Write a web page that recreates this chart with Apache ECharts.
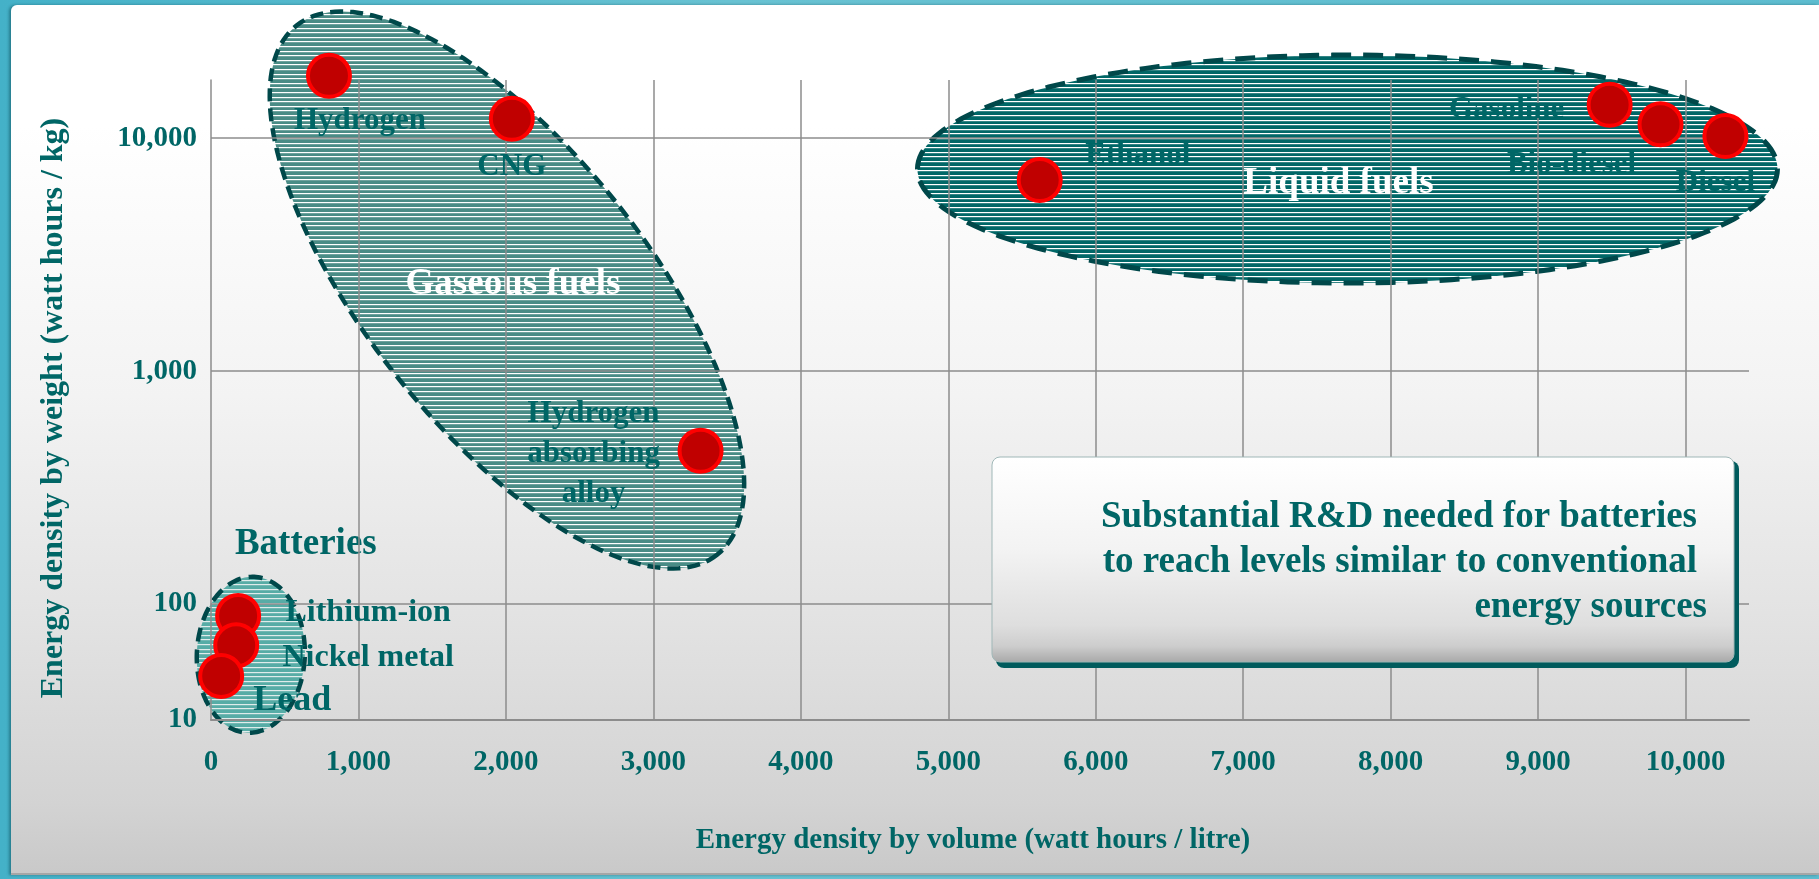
<!DOCTYPE html>
<html>
<head>
<meta charset="utf-8">
<script src="https://cdn.jsdelivr.net/npm/echarts@6/dist/echarts.min.js"></script>
<style>
html,body{margin:0;padding:0;width:1819px;height:879px;overflow:hidden;
  background:linear-gradient(90deg,#44b1c8 0%,#68c2d2 40%,#5dbccf 100%);}
#panel{position:absolute;left:11px;top:5px;width:1808px;height:870px;
  background:linear-gradient(180deg,#ffffff 0%,#ffffff 14%,#f3f3f3 45%,#e3e3e3 70%,#d3d3d3 92%,#c9c9c9 100%);
  border-top-left-radius:6px;box-shadow:-2px 0 3px rgba(0,60,70,0.45);
  border-bottom:2px solid #a6a6a6;box-sizing:border-box;}
#chart{position:absolute;left:0;top:0;width:1819px;height:879px;}
</style>
</head>
<body>
<div id="panel"></div>
<div id="chart"></div>
<script>
// ---------------- DATA ----------------
const fuelNames   = ['Hydrogen', 'CNG', 'Hydrogen\nabsorbing\nalloy', 'Ethanol', 'Gasoline', 'Bio-diesel', 'Diesel'];
const fuelVolume  = [800, 2040, 3320, 5620, 9485, 9830, 10270];      // Wh / litre
const fuelWeight  = [18500, 12100, 455, 6600, 13900, 11450, 10200];  // Wh / kg

const batteryNames  = ['Lithium-ion', 'Nickel metal', 'Lead'];
const batteryVolume = [184, 171, 69];
const batteryWeight = [79, 44, 24];

const xTickValues = [0, 1000, 2000, 3000, 4000, 5000, 6000, 7000, 8000, 9000, 10000];
const yTickValues = [10, 100, 1000, 10000];

const regionNames  = ['Gaseous fuels', 'Liquid fuels', 'Batteries'];
const regionVolume = [2007, 7707, 270];   // anchor of each grouping ellipse
const regionWeight = [2227, 7362, 36.5];

const boxLines = ['Substantial R&D needed for batteries', 'to reach levels similar to conventional', 'energy sources'];

// ---------------- STYLE ----------------
const TEAL = '#006666';
const FONT = '"Liberation Serif", "Times New Roman", serif';
const GRID = '#8c8c8c';

const labelStyle = {
  'Hydrogen': {dx: 31, dy: 45, size: 31},
  'CNG': {dx: 0, dy: 48, size: 31},
  'Hydrogen\nabsorbing\nalloy': {dx: -107, dy: 3, size: 31},
  'Ethanol': {dx: 98, dy: -24, size: 31},
  'Gasoline': {dx: -103, dy: 5, size: 31},
  'Bio-diesel': {dx: -89, dy: 41, size: 31},
  'Diesel': {dx: -10, dy: 47, size: 31},
  'Lithium-ion': {dx: 130, dy: -3, size: 32},
  'Nickel metal': {dx: 132, dy: 12, size: 32},
  'Lead': {dx: 71, dy: 25, size: 36}
};

function makePattern(base, line) {
  const c = document.createElement('canvas');
  c.width = 8; c.height = 23;
  const g = c.getContext('2d');
  g.fillStyle = base; g.fillRect(0, 0, 8, 23);
  g.fillStyle = line;
  [0, 5, 9, 14, 18].forEach(y => g.fillRect(0, y, 8, 1.2));
  return {image: c, repeat: 'repeat'};
}

const regionStyle = {
  'Gaseous fuels': {rx: 338, ry: 140, angle: 51.5, fill: makePattern('#4a8c86', '#ffffff'),
    stroke: '#00484a', width: 4.5, dash: [13, 7], tdx: 6, tdy: -6, tcolor: '#ffffff', tsize: 37},
  'Liquid fuels': {rx: 430, ry: 114, angle: 0, fill: makePattern('#006767', '#ffffff'),
    stroke: '#00484a', width: 5, dash: [20, 12], tdx: -9, tdy: 14, tcolor: '#ffffff', tsize: 37},
  'Batteries': {rx: 54, ry: 78, angle: 2.5, fill: makePattern('#57aca6', '#dfeceb'),
    stroke: '#00484a', width: 4.5, dash: [14, 8], tdx: 55, tdy: -110, tcolor: TEAL, tsize: 37}
};

function fmtTick(list) {
  return function (v) {
    const r = Math.round(v);
    return list.indexOf(r) >= 0 ? r.toLocaleString('en-US') : '';
  };
}

function regionSeries(indices, gridIdx) {
  return {
    type: 'custom', xAxisIndex: gridIdx, yAxisIndex: gridIdx, z: 1, clip: false, silent: true,
    data: indices.map(i => [regionVolume[i], regionWeight[i], i]),
    renderItem: function (params, api) {
      const name = regionNames[api.value(2)];
      const s = regionStyle[name];
      const c = api.coord([api.value(0), api.value(1)]);
      const a = s.angle * Math.PI / 180, ca = Math.cos(a), sa = Math.sin(a);
      const pts = [];
      const N = 180;
      for (let k = 0; k < N; k++) {
        const t = k / N * 2 * Math.PI;
        const ex = s.rx * Math.cos(t), ey = s.ry * Math.sin(t);
        pts.push([c[0] + ex * ca - ey * sa, c[1] + ex * sa + ey * ca]);
      }
      return {
        type: 'group',
        children: [
          {type: 'polygon', shape: {points: pts},
            style: {fill: s.fill, stroke: s.stroke, lineWidth: s.width, lineDash: s.dash}},
          {type: 'text', x: c[0] + s.tdx, y: c[1] + s.tdy,
            style: {text: name, fill: s.tcolor, font: 'bold ' + s.tsize + 'px ' + FONT,
              align: 'center', verticalAlign: 'middle'}}
        ]
      };
    }
  };
}

function pointData(names, xs, ys) {
  return names.map((n, i) => {
    const ls = labelStyle[n];
    return {
      name: n, value: [xs[i], ys[i]],
      label: {offset: [ls.dx, ls.dy], fontSize: ls.size}
    };
  });
}

const pointSeriesBase = {
  type: 'scatter', z: 5, clip: false, symbol: 'circle', symbolSize: 42,
  itemStyle: {color: '#c00000', borderColor: '#ff0000', borderWidth: 4, opacity: 1},
  label: {show: true, position: 'inside', formatter: '{b}', color: TEAL,
    fontFamily: FONT, fontWeight: 'bold', fontSize: 31, lineHeight: 40,
    align: 'center', verticalAlign: 'middle', textBorderWidth: 0},
  emphasis: {disabled: true},
  animation: false
};

const splitLine = {show: true, showMinLine: false, showMaxLine: false, lineStyle: {color: GRID, width: 1.5}};
const tickFont = {color: TEAL, fontFamily: FONT, fontWeight: 'bold', fontSize: 29};

const option = {
  backgroundColor: 'transparent',
  animation: false,
  grid: [
    {left: 211, right: 70, top: 80, height: 524, outerBoundsMode: 'none'},
    {left: 211, right: 70, top: 604, height: 116, outerBoundsMode: 'none'}
  ],
  xAxis: [
    {gridIndex: 0, type: 'value', min: 0, max: 10430, interval: 1000, z: 3,
      axisLine: {show: false}, axisTick: {show: false}, axisLabel: {show: false}, splitLine: splitLine},
    {gridIndex: 1, type: 'value', min: 0, max: 10430, interval: 1000, z: 3,
      axisLine: {show: true, onZero: false, lineStyle: {color: GRID, width: 2}},
      axisTick: {show: false},
      axisLabel: Object.assign({margin: 28, showMaxLabel: false, formatter: fmtTick(xTickValues)}, tickFont),
      splitLine: splitLine}
  ],
  yAxis: [
    {gridIndex: 0, type: 'log', logBase: 10, min: 100, max: 17750, z: 3,
      axisLine: {show: true, lineStyle: {color: GRID, width: 1.5}}, axisTick: {show: false},
      axisLabel: Object.assign({margin: 14, padding: [10, 0, 0, 0], showMinLabel: false, showMaxLabel: false,
        formatter: fmtTick(yTickValues)}, tickFont),
      splitLine: {show: true, showMinLine: true, showMaxLine: false, lineStyle: {color: GRID, width: 1.5}}},
    {gridIndex: 1, type: 'log', logBase: 10, min: 10, max: 100, z: 3,
      axisLine: {show: true, lineStyle: {color: GRID, width: 1.5}}, axisTick: {show: false},
      axisLabel: Object.assign({margin: 14, padding: [6, 0, 0, 0], showMinLabel: true, showMaxLabel: true,
        formatter: fmtTick(yTickValues)}, tickFont),
      splitLine: {show: false}}
  ],
  series: [
    regionSeries([0, 1], 0),
    regionSeries([2], 1),
    Object.assign({}, pointSeriesBase, {xAxisIndex: 0, yAxisIndex: 0,
      data: pointData(fuelNames, fuelVolume, fuelWeight)}),
    Object.assign({}, pointSeriesBase, {xAxisIndex: 1, yAxisIndex: 1,
      data: pointData(batteryNames, batteryVolume, batteryWeight)})
  ],
  graphic: [
    {type: 'text', x: 54, y: 408, rotation: Math.PI / 2, z: 20,
      style: {text: 'Energy density by weight (watt hours / kg)', fill: TEAL,
        font: 'bold 32px ' + FONT, align: 'center', verticalAlign: 'middle'}},
    {type: 'text', x: 973, y: 841, z: 20,
      style: {text: 'Energy density by volume (watt hours / litre)', fill: TEAL,
        font: 'bold 29px ' + FONT, align: 'center', verticalAlign: 'middle'}},
    {type: 'rect', z: 30, shape: {x: 996, y: 461, width: 743, height: 207, r: 8},
      style: {fill: '#005b5d'}},
    {type: 'rect', z: 31, shape: {x: 992, y: 457, width: 742, height: 205, r: 8},
      style: {fill: new echarts.graphic.LinearGradient(0, 0, 0, 1, [
        {offset: 0, color: '#ffffff'}, {offset: 0.45, color: '#f3f3f3'},
        {offset: 0.82, color: '#dedede'}, {offset: 0.92, color: '#cdcdcd'}, {offset: 1, color: '#a8a8a8'}]),
        stroke: '#9fb7b7', lineWidth: 1}},
    {type: 'text', x: 1697, y: 517, z: 32,
      style: {text: boxLines[0], fill: TEAL, font: 'bold 37px ' + FONT, align: 'right', verticalAlign: 'middle'}},
    {type: 'text', x: 1697, y: 562, z: 32,
      style: {text: boxLines[1], fill: TEAL, font: 'bold 37px ' + FONT, align: 'right', verticalAlign: 'middle'}},
    {type: 'text', x: 1707, y: 607, z: 32,
      style: {text: boxLines[2], fill: TEAL, font: 'bold 37px ' + FONT, align: 'right', verticalAlign: 'middle'}}
  ]
};

const chart = echarts.init(document.getElementById('chart'), null, {renderer: 'canvas', width: 1819, height: 879});
chart.setOption(option);
</script>
</body>
</html>
